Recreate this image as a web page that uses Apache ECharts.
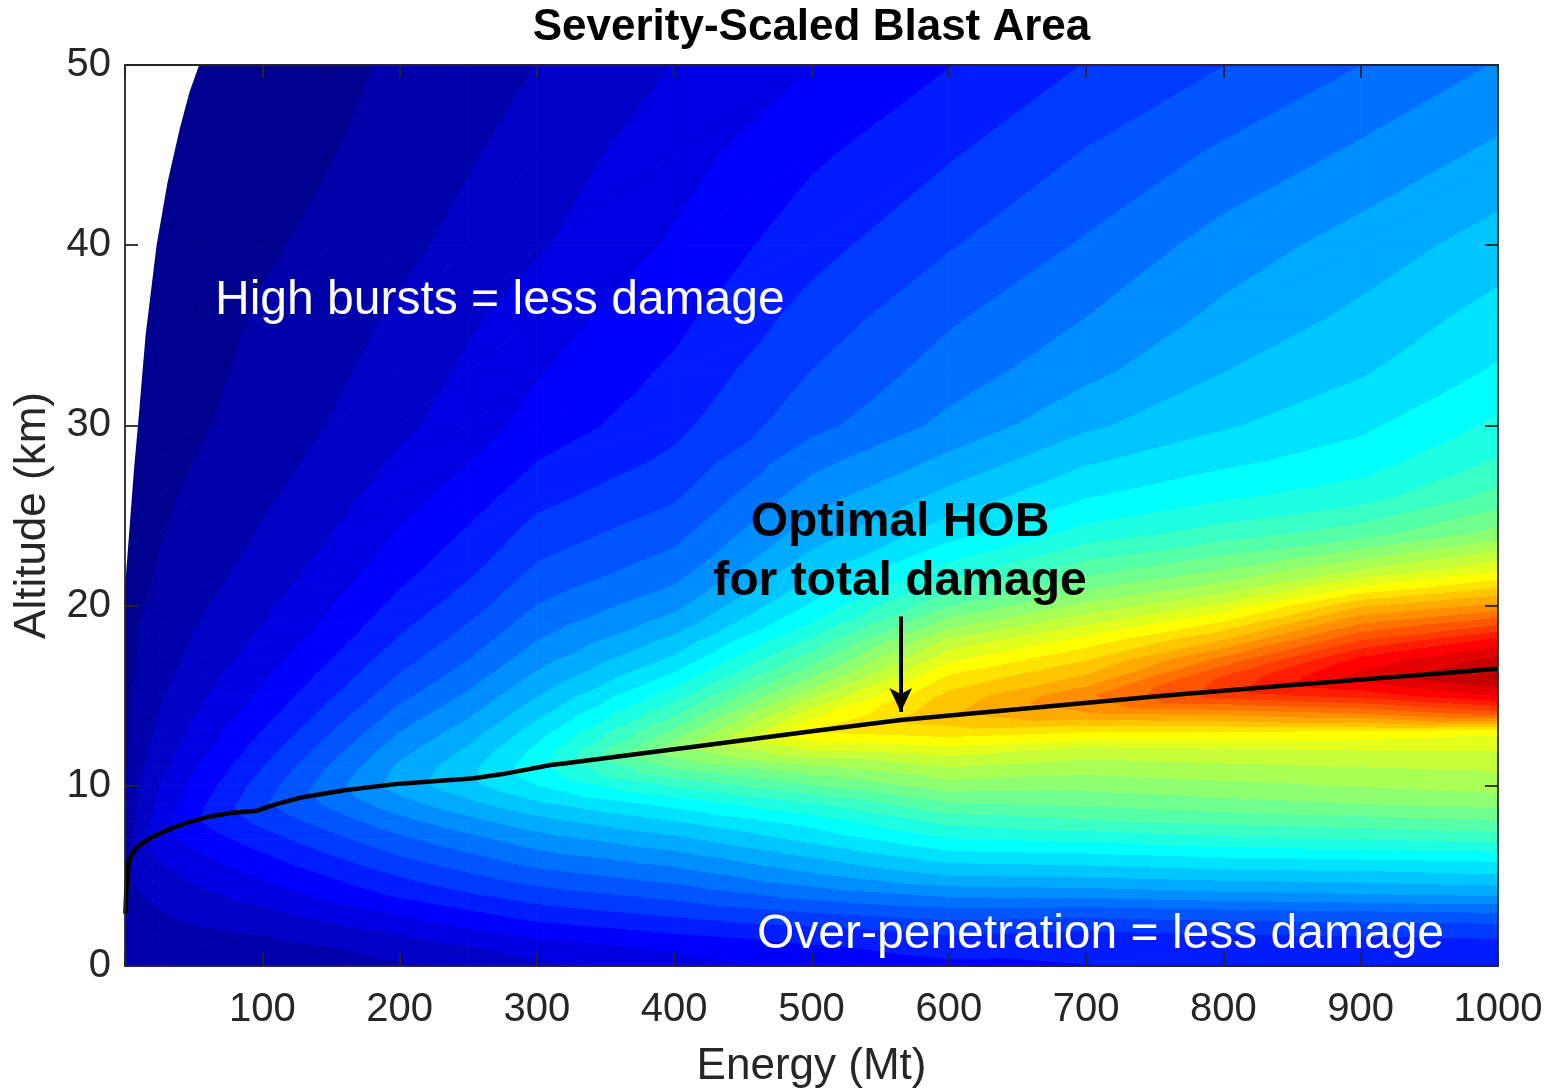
<!DOCTYPE html>
<html>
<head>
<meta charset="utf-8">
<title>Severity-Scaled Blast Area</title>
<script src="https://cdn.jsdelivr.net/npm/echarts@6/dist/echarts.min.js"></script>
<style>
  html, body { margin: 0; padding: 0; background: #ffffff; }
  #chart { width: 1549px; height: 1091px; }
</style>
</head>
<body>
<div id="chart"></div>
<script>
// Grid nodes of the field: energy (Mt) columns and altitude (km) rows.
const energyMt = [0, 10, 25, 50, 100, 150, 200, 250, 300, 400, 500, 600, 700, 800, 900, 1000];
const altitudeKm = [0, 1, 2, 3, 4, 5, 6, 7, 8, 9, 10, 11, 12, 13, 14, 15, 16, 17, 18, 19, 20, 21,
                    22, 24, 26, 28, 30, 33, 36, 40, 45, 50];

// Normalised severity-scaled blast area, one altitude profile (bottom to top) per energy column.
const severityProfiles = [
  /*    0 */ [0.030,0.035,0.040,0.044,0.043,0.040,0.037,0.034,0.031,0.029,0.027,0.025,0.023,0.021,0.020,0.018,0.017,0.016,0.015,0.014,0.013,0.012, 0.011,0.010,0.009,0.008,0.007,0.006,0.005,0.004,0.003,0.002],
  /*   10 */ [0.032,0.036,0.041,0.047,0.054,0.062,0.069,0.071,0.066,0.060,0.055,0.050,0.046,0.042,0.039,0.036,0.033,0.031,0.029,0.027,0.025,0.023, 0.021,0.018,0.016,0.014,0.012,0.010,0.008,0.007,0.005,0.004],
  /*   25 */ [0.033,0.039,0.047,0.055,0.064,0.074,0.085,0.097,0.097,0.090,0.082,0.075,0.068,0.062,0.057,0.052,0.048,0.044,0.041,0.038,0.035,0.032, 0.030,0.026,0.023,0.020,0.017,0.014,0.012,0.010,0.008,0.006],
  /*   50 */ [0.034,0.042,0.052,0.063,0.076,0.089,0.103,0.119,0.134,0.128,0.118,0.108,0.099,0.090,0.082,0.075,0.069,0.063,0.058,0.054,0.050,0.046, 0.043,0.037,0.033,0.028,0.024,0.020,0.016,0.012,0.010,0.008],
  /*  100 */ [0.035,0.045,0.060,0.077,0.096,0.114,0.133,0.153,0.174,0.190,0.180,0.167,0.153,0.140,0.128,0.117,0.107,0.098,0.090,0.083,0.077,0.071, 0.066,0.058,0.051,0.045,0.040,0.035,0.031,0.024,0.018,0.014],
  /*  150 */ [0.043,0.055,0.075,0.097,0.120,0.141,0.163,0.185,0.207,0.228,0.238,0.226,0.210,0.194,0.178,0.164,0.151,0.139,0.128,0.118,0.110,0.102, 0.095,0.083,0.072,0.064,0.057,0.050,0.044,0.035,0.027,0.021],
  /*  200 */ [0.052,0.066,0.090,0.116,0.145,0.168,0.192,0.215,0.240,0.267,0.290,0.284,0.268,0.250,0.232,0.214,0.198,0.184,0.171,0.159,0.148,0.138, 0.129,0.114,0.100,0.088,0.077,0.068,0.060,0.049,0.040,0.032],
  /*  250 */ [0.064,0.080,0.108,0.136,0.165,0.190,0.215,0.240,0.268,0.298,0.325,0.325,0.310,0.292,0.273,0.255,0.238,0.222,0.208,0.195,0.182,0.171, 0.160,0.143,0.125,0.110,0.098,0.088,0.079,0.064,0.053,0.044],
  /*  300 */ [0.077,0.095,0.125,0.155,0.183,0.210,0.238,0.265,0.295,0.328,0.360,0.380,0.368,0.348,0.325,0.304,0.285,0.267,0.251,0.237,0.223,0.211, 0.199,0.178,0.158,0.139,0.121,0.109,0.098,0.080,0.068,0.056],
  /*  400 */ [0.100,0.116,0.145,0.175,0.205,0.235,0.265,0.297,0.332,0.370,0.420,0.475,0.520,0.480,0.440,0.405,0.370,0.340,0.315,0.290,0.270,0.252, 0.237,0.213,0.191,0.173,0.159,0.144,0.131,0.115,0.100,0.084],
  /*  500 */ [0.118,0.134,0.160,0.196,0.235,0.272,0.305,0.340,0.372,0.415,0.470,0.520,0.585,0.640,0.600,0.550,0.500,0.460,0.425,0.390,0.365,0.345, 0.323,0.292,0.266,0.241,0.213,0.195,0.178,0.156,0.134,0.111],
  /*  600 */ [0.132,0.150,0.174,0.212,0.258,0.305,0.345,0.385,0.425,0.470,0.515,0.555,0.600,0.655,0.690,0.675,0.645,0.605,0.565,0.515,0.470,0.435, 0.400,0.350,0.315,0.285,0.258,0.235,0.218,0.192,0.164,0.138],
  /*  700 */ [0.138,0.148,0.168,0.208,0.262,0.310,0.350,0.395,0.440,0.478,0.510,0.540,0.575,0.640,0.720,0.745,0.700,0.665,0.625,0.580,0.535,0.495, 0.460,0.400,0.360,0.330,0.300,0.270,0.250,0.226,0.197,0.168],
  /*  800 */ [0.140,0.150,0.172,0.215,0.272,0.318,0.360,0.408,0.452,0.490,0.520,0.548,0.580,0.640,0.730,0.820,0.810,0.760,0.700,0.645,0.590,0.540, 0.500,0.430,0.385,0.355,0.330,0.305,0.285,0.262,0.228,0.194],
  /*  900 */ [0.140,0.152,0.175,0.220,0.278,0.322,0.365,0.415,0.460,0.500,0.530,0.555,0.585,0.635,0.750,0.845,0.900,0.870,0.810,0.750,0.690,0.615, 0.555,0.460,0.405,0.375,0.355,0.330,0.312,0.290,0.256,0.222],
  /* 1000 */ [0.140,0.155,0.178,0.225,0.285,0.330,0.370,0.425,0.470,0.510,0.540,0.560,0.585,0.620,0.790,0.890,0.950,0.925,0.875,0.800,0.730,0.665, 0.605,0.510,0.455,0.420,0.395,0.365,0.345,0.318,0.285,0.252]
];

// Optimal height of burst for total damage: [energy Mt, altitude km].
const hobLine = [
  [0.3, 2.9], [1, 4.3], [2, 5.4], [3, 5.9], [5, 6.2], [8, 6.55], [14, 6.9], [22, 7.25], [31, 7.55],
  [45, 7.95], [62, 8.3], [78, 8.5], [88, 8.56], [95, 8.6], [103, 8.8], [111, 9.0], [128, 9.35], [160, 9.75],
  [200, 10.12], [254, 10.42], [275, 10.65], [310, 11.15], [321, 11.25], [417, 12.2], [503, 13.05],
  [565, 13.65], [650, 14.25], [756, 15.0], [850, 15.6], [1000, 16.5]
];

// Edge of the region without results (small energies, high altitude).
const noDataEdge = [
  [0, 21], [2, 23], [4, 25], [6.5, 27.5], [10, 30.5], [15, 35], [23, 40], [31, 43.5], [40, 46.5], [47, 48.5], [54, 50]
];

// Arrow pointing at the optimal-HOB curve: [energy, altitude] of tail and head.
const arrowTail = [565, 19.4];
const arrowHead = [565, 14.1];

const xRange = [0, 1000], xStep = 100;
const yRange = [0, 50], yStep = 10;

// ---------------------------------------------------------------------------
const LEVELS = 36;
const clamp01 = v => Math.max(0, Math.min(1, v));
function jet(t) {
  t = clamp01(t);
  const r = clamp01(Math.min(4 * t - 1.5, -4 * t + 4.5));
  const g = clamp01(Math.min(4 * t - 0.5, -4 * t + 3.5));
  const b = clamp01(Math.min(4 * t + 0.5, -4 * t + 2.5));
  return 'rgb(' + Math.round(r * 255) + ',' + Math.round(g * 255) + ',' + Math.round(b * 255) + ')';
}
const levelOf = v => Math.min(LEVELS - 1, Math.max(0, Math.floor(v * LEVELS)));
const bandColor = k => jet((k + 0.5) / LEVELS);

// Filled-contour shading of one triangle with a linear value ramp.
function triangleFill(P, V) {
  const a = V[0], b = V[1], c = V[2];
  const vmin = Math.min(a, b, c), vmax = Math.max(a, b, c);
  const kmin = levelOf(vmin), kmax = levelOf(vmax);
  const d1x = P[1][0] - P[0][0], d1y = P[1][1] - P[0][1];
  const d2x = P[2][0] - P[0][0], d2y = P[2][1] - P[0][1];
  const det = d1x * d2y - d1y * d2x;
  if (kmin === kmax || Math.abs(det) < 1e-9) return bandColor(kmin);
  const gx = ((b - a) * d2y - d1y * (c - a)) / det;
  const gy = (d1x * (c - a) - (b - a) * d2x) / det;
  const g2 = gx * gx + gy * gy;
  if (g2 < 1e-14) return bandColor(kmin);
  const sx = P[0][0] + gx * (vmin - a) / g2, sy = P[0][1] + gy * (vmin - a) / g2;
  const ex = P[0][0] + gx * (vmax - a) / g2, ey = P[0][1] + gy * (vmax - a) / g2;
  const stops = [{ offset: 0, color: bandColor(kmin) }];
  for (let k = kmin + 1; k <= kmax; k++) {
    const t = clamp01((k / LEVELS - vmin) / (vmax - vmin));
    stops.push({ offset: t, color: bandColor(k - 1) }, { offset: t, color: bandColor(k) });
  }
  stops.push({ offset: 1, color: bandColor(kmax) });
  return { type: 'linear', x: sx, y: sy, x2: ex, y2: ey, global: true, colorStops: stops };
}
function triangle(P, V) {
  const fill = triangleFill(P, V);
  return {
    type: 'polygon',
    shape: { points: P },
    style: { fill: fill, stroke: fill, lineWidth: 0.9, lineJoin: 'round' }
  };
}

// One cell per pair of neighbouring grid nodes.
const cells = [];
for (let i = 0; i < energyMt.length - 1; i++) {
  for (let j = 0; j < altitudeKm.length - 1; j++) {
    cells.push([
      energyMt[i], energyMt[i + 1], altitudeKm[j], altitudeKm[j + 1],
      severityProfiles[i][j], severityProfiles[i + 1][j],
      severityProfiles[i][j + 1], severityProfiles[i + 1][j + 1]
    ]);
  }
}

const AXIS_COLOR = '#262626';
const FONT = '"Liberation Sans", Arial, Helvetica, sans-serif';

function valueAxis(range, step, position, extra) {
  return Object.assign({
    type: 'value', min: range[0], max: range[1], interval: step, position: position, z: 10,
    axisLine: { show: true, onZero: false, lineStyle: { color: AXIS_COLOR, width: 1.8 } },
    axisTick: { show: true, inside: true, length: 13, lineStyle: { color: AXIS_COLOR, width: 1.8 } },
    axisLabel: { show: false },
    splitLine: { show: false }
  }, extra || {});
}

const chart = echarts.init(document.getElementById('chart'), null, { renderer: 'canvas' });

chart.setOption({
  animation: false,
  backgroundColor: '#ffffff',
  grid: { left: 125, top: 65, width: 1373, height: 901, containLabel: false, outerBoundsMode: 'none' },
  xAxis: [
    valueAxis(xRange, xStep, 'bottom', {
      axisLabel: {
        show: true, margin: 24, fontSize: 40, color: AXIS_COLOR, fontFamily: FONT,
        formatter: v => (v === 0 ? '' : String(v))
      },
      name: 'Energy (Mt)', nameLocation: 'middle', nameGap: 79,
      nameTextStyle: { fontSize: 44, color: AXIS_COLOR, fontFamily: FONT }
    }),
    valueAxis(xRange, xStep, 'top')
  ],
  yAxis: [
    valueAxis(yRange, yStep, 'left', {
      axisLabel: { show: true, margin: 14, fontSize: 40, color: AXIS_COLOR, fontFamily: FONT },
      name: 'Altitude (km)', nameLocation: 'middle', nameGap: 70,
      nameTextStyle: { fontSize: 44, color: AXIS_COLOR, fontFamily: FONT }
    }),
    valueAxis(yRange, yStep, 'right')
  ],
  series: [
    {
      name: 'severity',
      type: 'custom',
      xAxisIndex: 0, yAxisIndex: 0,
      silent: true, clip: true, z: 1,
      dimensions: ['e0', 'e1', 'h0', 'h1', 'v00', 'v10', 'v01', 'v11'],
      encode: { x: [0, 1], y: [2, 3] },
      data: cells,
      renderItem: function (params, api) {
        const e0 = api.value(0), e1 = api.value(1), h0 = api.value(2), h1 = api.value(3);
        const p00 = api.coord([e0, h0]), p10 = api.coord([e1, h0]);
        const p01 = api.coord([e0, h1]), p11 = api.coord([e1, h1]);
        const v00 = api.value(4), v10 = api.value(5), v01 = api.value(6), v11 = api.value(7);
        return {
          type: 'group',
          children: [
            triangle([p00, p10, p11], [v00, v10, v11]),
            triangle([p00, p11, p01], [v00, v11, v01])
          ]
        };
      }
    },
    {
      name: 'no data',
      type: 'custom',
      xAxisIndex: 0, yAxisIndex: 0,
      silent: true, clip: true, z: 2,
      encode: { x: 0, y: 1 },
      data: noDataEdge,
      renderItem: function (params, api) {
        if (params.dataIndex !== 0) return null;
        const pts = noDataEdge.map(p => api.coord(p));
        pts.push(api.coord([xRange[0], yRange[1]]));
        return { type: 'polygon', shape: { points: pts }, style: { fill: '#ffffff' } };
      }
    },
    {
      name: 'Optimal HOB',
      type: 'line',
      xAxisIndex: 0, yAxisIndex: 0,
      z: 3,
      data: hobLine,
      showSymbol: false,
      symbol: 'none',
      smooth: false,
      silent: true,
      lineStyle: { color: '#000000', width: 4.5 },
      markLine: {
        silent: true,
        symbol: ['none', 'arrow'],
        symbolSize: [17, 24],
        label: { show: false },
        lineStyle: { color: '#000000', width: 4, type: 'solid' },
        emphasis: { disabled: true },
        data: [[{ coord: arrowTail }, { coord: arrowHead }]]
      }
    }
  ],
  graphic: [
    {
      type: 'text', x: 811.5, y: 28, z: 20, silent: true,
      style: { text: 'Severity-Scaled Blast Area', fill: '#000000', font: 'bold 44px ' + FONT, align: 'center', verticalAlign: 'middle' }
    },
    {
      type: 'text', x: 215, y: 301, z: 20, silent: true,
      style: { text: 'High bursts = less damage', fill: '#ffffff', font: '48px ' + FONT, align: 'left', verticalAlign: 'middle' }
    },
    {
      type: 'text', x: 900, y: 552, z: 20, silent: true,
      style: { text: 'Optimal HOB\nfor total damage', fill: '#000000', font: 'bold 48px ' + FONT, lineHeight: 59, align: 'center', verticalAlign: 'middle' }
    },
    {
      type: 'text', x: 757, y: 935, z: 20, silent: true,
      style: { text: 'Over-penetration = less damage', fill: '#ffffff', font: '48px ' + FONT, align: 'left', verticalAlign: 'middle' }
    }
  ]
});
</script>
</body>
</html>
